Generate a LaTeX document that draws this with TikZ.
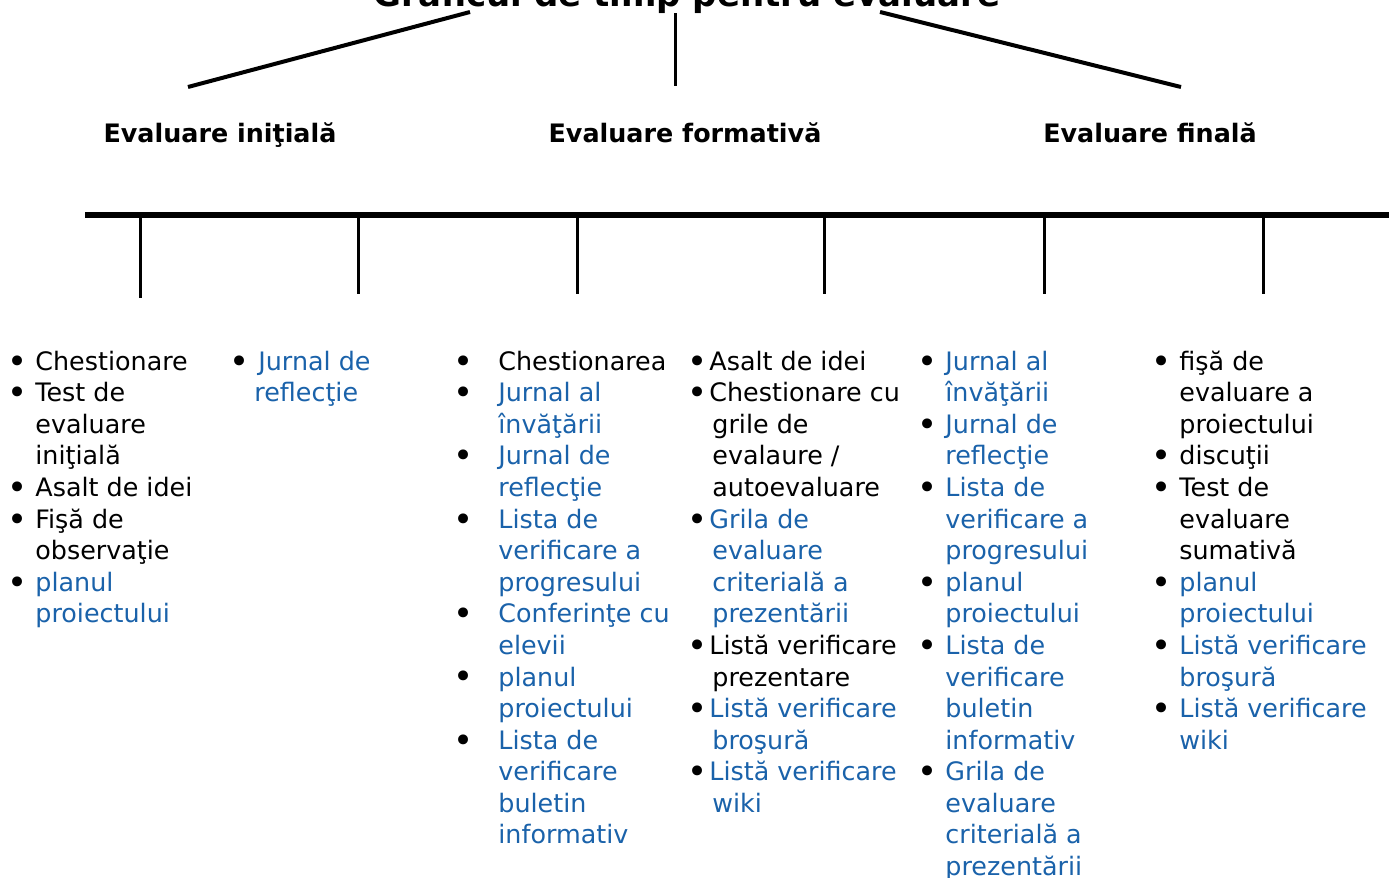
\documentclass[tikz,border=0pt]{standalone}
\usepackage{fontspec}
\setmainfont{DejaVu Sans}
\usetikzlibrary{positioning}
\definecolor{linkblue}{HTML}{1A62AA}
\newcommand{\bul}[1]{\llap{\raisebox{-1.5pt}{\fontsize{17}{17}\selectfont\textbullet}\hspace{#1}}}
\newcommand{\lk}{\color{linkblue}}

\begin{document}
\begin{tikzpicture}[x=0.5pt, y=-0.5pt,
    titlefont/.style={font=\fontsize{17}{20}\selectfont\bfseries, inner sep=0pt, anchor=base},
    head/.style={font=\fontsize{12.7}{15.8}\selectfont\bfseries, inner sep=0pt, anchor=base},
    col/.style={font=\fontsize{12.7}{15.8}\selectfont, inner sep=0pt, anchor=base west},
    branch/.style={line width=2pt},
    tick/.style={line width=1.5pt}]
    \useasboundingbox (0,0) rectangle (1389,878);
    \clip (0,0) rectangle (1389,878);
    % Title (cut by the top edge)
    \node[titlefont] (title) at (687,6) {Graficul de timp pentru evaluare};
    % Branches under the title
    \coordinate (brL1) at (470,12);  \coordinate (brL2) at (188,87);
    \coordinate (brM1) at (675,13);  \coordinate (brM2) at (675,86);
    \coordinate (brR1) at (880,12);  \coordinate (brR2) at (1181,87);
    \draw[branch] (brL1) -- (brL2);
    \draw[line width=1.5pt] (brM1) -- (brM2);
    \draw[branch] (brR1) -- (brR2);
    % Stage headings
    \node[head] (initiala) at (220,142) {Evaluare iniţială};
    \node[head] (formativa) at (685,142) {Evaluare formativă};
    \node[head] (finala) at (1150,142) {Evaluare finală};
    % Time line
    \coordinate (tlA) at (85,215);
    \coordinate (tlB) at (1389,215);
    \draw[line width=3pt] (tlA) -- (tlB);
    \foreach \x/\yb [count=\i] in {140/298, 358/294, 577/294, 824/294, 1044/294, 1263/294}{
      \coordinate (tk\i) at (\x,215);
      \coordinate (tkend\i) at (\x,\yb);
      \draw[tick] (tk\i) -- (tkend\i);
    }
    % Lists under the ticks
    \node[col] (list1) at (35,370) {\begin{tabular}[t]{@{}l@{}}
      \bul{4pt}Chestionare\\
      \bul{4pt}Test de\\
      evaluare\\
      iniţială\\
      \bul{4pt}Asalt de idei\\
      \bul{4pt}Fişă de\\
      observaţie\\
      \bul{4pt}\lk planul\\
      \lk proiectului
    \end{tabular}};
    \node[col] (list2) at (254,370) {\begin{tabular}[t]{@{}l@{}}
      \bul{2.25pt}\hspace{2pt}\lk Jurnal de\\
      \lk reflecţie
    \end{tabular}};
    \node[col] (list3) at (498,370) {\begin{tabular}[t]{@{}l@{}}
      \bul{12.5pt}Chestionarea\\
      \bul{12.5pt}\lk Jurnal al\\
      \lk învăţării\\
      \bul{12.5pt}\lk Jurnal de\\
      \lk reflecţie\\
      \bul{12.5pt}\lk Lista de\\
      \lk verificare a\\
      \lk progresului\\
      \bul{12.5pt}\lk Conferinţe cu\\
      \lk elevii\\
      \bul{12.5pt}\lk planul\\
      \lk proiectului\\
      \bul{12.5pt}\lk Lista de\\
      \lk verificare\\
      \lk buletin\\
      \lk informativ
    \end{tabular}};
    \node[col] (list4) at (712,370) {\begin{tabular}[t]{@{}l@{}}
      \bul{2.5pt}\hspace{-1.5pt}Asalt de idei\\
      \bul{2.5pt}\hspace{-1.5pt}Chestionare cu\\
      grile de\\
      evalaure /\\
      autoevaluare\\
      \bul{2.5pt}\hspace{-1.5pt}\lk Grila de\\
      \lk evaluare\\
      \lk criterială a\\
      \lk prezentării\\
      \bul{2.5pt}\hspace{-1.5pt}Listă verificare\\
      prezentare\\
      \bul{2.5pt}\hspace{-1.5pt}\lk Listă verificare\\
      \lk broşură\\
      \bul{2.5pt}\hspace{-1.5pt}\lk Listă verificare\\
      \lk wiki
    \end{tabular}};
    \node[col] (list5) at (945,370) {\begin{tabular}[t]{@{}l@{}}
      \bul{3.75pt}\lk Jurnal al\\
      \lk învăţării\\
      \bul{3.75pt}\lk Jurnal de\\
      \lk reflecţie\\
      \bul{3.75pt}\lk Lista de\\
      \lk verificare a\\
      \lk progresului\\
      \bul{3.75pt}\lk planul\\
      \lk proiectului\\
      \bul{3.75pt}\lk Lista de\\
      \lk verificare\\
      \lk buletin\\
      \lk informativ\\
      \bul{3.75pt}\lk Grila de\\
      \lk evaluare\\
      \lk criterială a\\
      \lk prezentării
    \end{tabular}};
    \node[col] (list6) at (1179,370) {\begin{tabular}[t]{@{}l@{}}
      \bul{3.75pt}fişă de\\
      evaluare a\\
      proiectului\\
      \bul{3.75pt}discuţii\\
      \bul{3.75pt}Test de\\
      evaluare\\
      sumativă\\
      \bul{3.75pt}\lk planul\\
      \lk proiectului\\
      \bul{3.75pt}\lk Listă verificare\\
      \lk broşură\\
      \bul{3.75pt}\lk Listă verificare\\
      \lk wiki
    \end{tabular}};
\end{tikzpicture}
\end{document}
